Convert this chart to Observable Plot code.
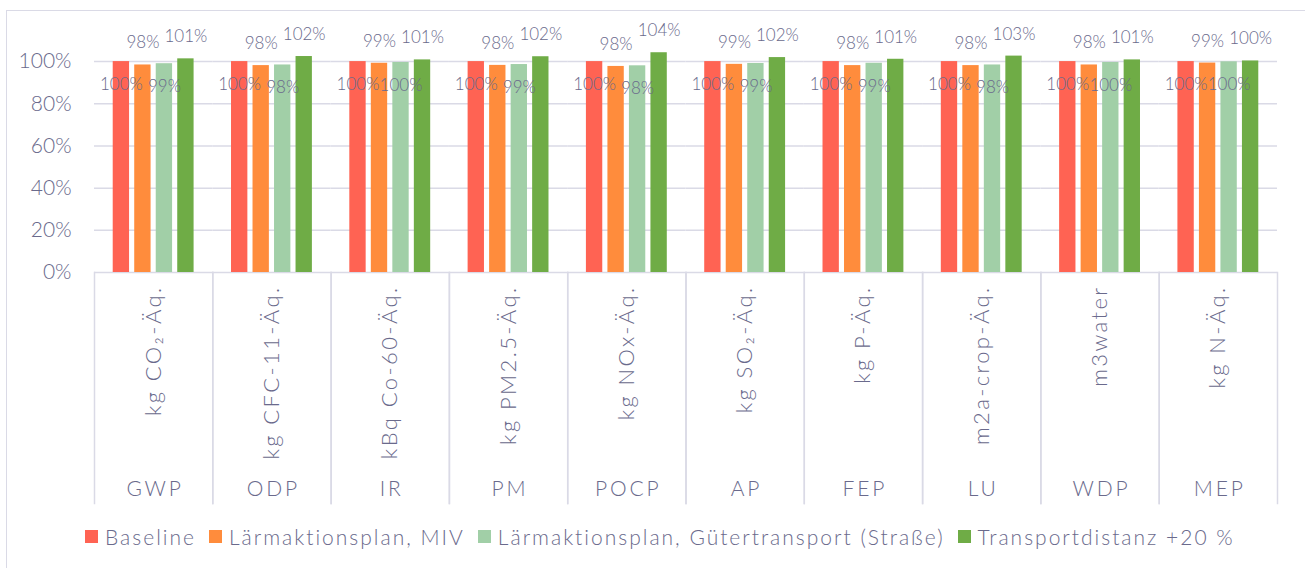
<!DOCTYPE html>
<html>
<head>
<meta charset="utf-8">
<script src="https://cdn.jsdelivr.net/npm/d3@7"></script>
<script src="https://cdn.jsdelivr.net/npm/@observablehq/plot@0.6"></script>
<style>
  html, body { margin: 0; padding: 0; background: #fff; }
  #wrap { position: relative; width: 1305px; height: 568px; overflow: hidden; font-family: Lato, "Open Sans", sans-serif; }
  #border { position: absolute; left: 6px; top: 10px; width: 1400px; height: 700px; border-top: 1.5px solid #dadae6; border-left: 1.5px solid #dadae6; }
  #chart { position: absolute; left: 0; top: 0; }
  #legend { position: absolute; left: 85px; top: 520px; }
  .lg-swatch { margin-right: 13px !important; letter-spacing: 2px; }
  .lg-swatch svg { margin-right: 7px !important; }
</style>
</head>
<body>
<div id="wrap">
  <div id="border"></div>
  <div id="chart"></div>
  <div id="legend"></div>
</div>
<script>
const categories = ["GWP", "ODP", "IR", "PM", "POCP", "AP", "FEP", "LU", "WDP", "MEP"];
const units = ["kg CO₂-Äq.", "kg CFC-11-Äq.", "kBq Co-60-Äq.", "kg PM2.5-Äq.", "kg NOx-Äq.", "kg SO₂-Äq.", "kg P-Äq.", "m2a-crop-Äq.", "m3water", "kg N-Äq."];
const series = ["Baseline", "Lärmaktionsplan, MIV", "Lärmaktionsplan, Gütertransport (Straße)", "Transportdistanz +20 %"];
const colors = ["#ff6353", "#ff8c3c", "#a1cfa7", "#6fac46"];
const baseline     = [100, 100, 100, 100, 100, 100, 100, 100, 100, 100];
const miv          = [98.4, 98.1, 99.2, 98.2, 97.7, 98.7, 98.1, 98.1, 98.4, 99.3];
const gueter       = [99.0, 98.4, 99.6, 98.6, 98.0, 99.1, 99.2, 98.4, 99.6, 99.9];
const distanz      = [101.3, 102.4, 100.8, 102.3, 104.2, 101.9, 101.1, 102.6, 100.8, 100.3];
const yTicks = [0, 20, 40, 60, 80, 100];

const seriesValues = [baseline, miv, gueter, distanz];
const data = [];
categories.forEach((c, i) => {
  series.forEach((s, j) => data.push({category: c, series: s, value: seriesValues[j][i]}));
});
const unitData = categories.map((c, i) => ({category: c, unit: units[i]}));

const textColor = "#6a6a8c";
const gridColor = "#dadae6";
const font = "Lato, 'Open Sans', sans-serif";

const below = new Set([series[0], series[2]]);

const chart = Plot.plot({
  width: 1305,
  height: 515,
  marginLeft: 94,
  marginRight: 28,
  marginTop: 40,
  marginBottom: 243,
  style: {fontFamily: font, color: textColor, background: "transparent", overflow: "visible"},
  fx: {domain: categories, padding: 0, round: false, axis: null},
  x: {domain: series, paddingInner: 0.24, paddingOuter: 0.87, round: false, axis: null},
  y: {domain: [0, 110], axis: null},
  color: {domain: series, range: colors},
  marks: [
    Plot.gridY(yTicks, {stroke: gridColor, strokeOpacity: 1, strokeWidth: 1.5}),
    Plot.axisY(yTicks, {tickSize: 0, tickPadding: 23, tickFormat: d => d + "%", fontSize: 21, fontWeight: 300, fill: textColor, label: null}),
    Plot.frame({anchor: "left", insetTop: 232, insetBottom: -231, stroke: gridColor, strokeWidth: 1.5}),
    Plot.frame({anchor: "right", insetTop: 232, insetBottom: -231, stroke: gridColor, strokeWidth: 1.5}),
    Plot.barY(data, {fx: "category", x: "series", y: "value", fill: "series"}),
    Plot.text(data.filter(d => below.has(d.series)), {fx: "category", x: "series", y: "value", text: d => Math.round(d.value) + "%", dy: 23, lineAnchor: "middle", fontSize: 17, fontWeight: 300, fill: textColor}),
    Plot.text(data.filter(d => !below.has(d.series)), {fx: "category", x: "series", y: "value", text: d => Math.round(d.value) + "%", dy: -22, lineAnchor: "middle", fontSize: 17, fontWeight: 300, fill: textColor}),
    Plot.text(unitData, {fx: "category", text: "unit", frameAnchor: "bottom", rotate: -90, textAnchor: "end", lineAnchor: "middle", dy: 13, fontSize: 22, fontWeight: 300, fill: textColor}),
    Plot.text(categories, {fx: d => d, text: d => d, frameAnchor: "bottom", lineAnchor: "middle", dy: 216.5, dx: 1.4, fontSize: 21, fontWeight: 300, fill: textColor})
  ]
});
document.getElementById("chart").appendChild(chart);

// letter spacing to approximate the wide geometric font of the original
const unitSet = new Set(units), catSet = new Set(categories);
d3.select(chart).selectAll("text").each(function() {
  const t = this.textContent;
  if (unitSet.has(t)) this.style.letterSpacing = "2.4px";
  else if (catSet.has(t)) this.style.letterSpacing = "2.8px";
});

const legend = Plot.legend({
  color: {domain: series, range: colors},
  swatchSize: 13,
  className: "lg",
  style: {fontFamily: font, fontSize: "21px", fontWeight: 300, color: textColor, margin: 0}
});
document.getElementById("legend").appendChild(legend);
</script>
</body>
</html>
